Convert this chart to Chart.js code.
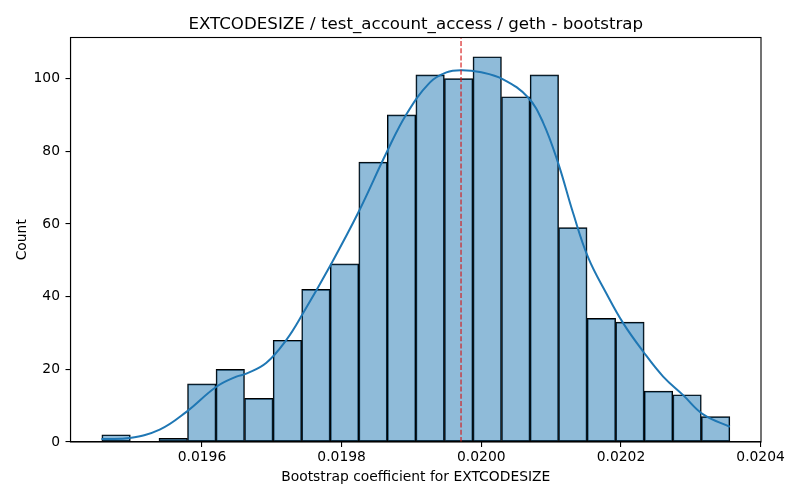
<!DOCTYPE html>
<html>
<head>
<meta charset="utf-8">
<script src="https://cdn.jsdelivr.net/npm/chart.js@4.4.1/dist/chart.umd.min.js"></script>
<style>
  html, body { margin: 0; padding: 0; background: #ffffff; }
  #c { display: block; }
</style>
</head>
<body>
<canvas id="c" width="800" height="500"></canvas>
<script>
// ---- Data ----
const chartTitle = "EXTCODESIZE / test_account_access / geth - bootstrap";
const xAxisLabel = "Bootstrap coefficient for EXTCODESIZE";
const yAxisLabel = "Count";

const binCenters = [
  0.0194770, 0.0195179, 0.0195588, 0.0195997, 0.0196405, 0.0196814,
  0.0197223, 0.0197632, 0.0198041, 0.0198450, 0.0198858, 0.0199267,
  0.0199676, 0.0200085, 0.0200494, 0.0200903, 0.0201311, 0.0201720,
  0.0202129, 0.0202538, 0.0202947, 0.0203356
];
const binCounts = [
  2, 0, 1, 16, 20, 12, 28, 42, 49, 77, 90, 101,
  100, 106, 95, 101, 59, 34, 33, 14, 13, 7
];

const kdeX = [
  0.0194559, 0.0194964, 0.0195394, 0.0195777, 0.0196206, 0.0196493,
  0.0196636, 0.0196923, 0.0197209, 0.0197447, 0.0197830, 0.0198235,
  0.0198642, 0.0198928, 0.0199262, 0.0199501, 0.0199716, 0.0199978,
  0.0200312, 0.0200670, 0.0200885, 0.0201100, 0.0201315, 0.0201530,
  0.0201794, 0.0202032, 0.0202318, 0.0202605, 0.0202891, 0.0203178,
  0.0203560
];
const kdeY = [
  0.8, 1.1, 3.4, 8.3, 15.2, 18.0,
  18.8, 21.8, 28.1, 35.4, 48.3, 63.0,
  79.6, 90.2, 98.9, 101.7, 102.3, 101.8,
  99.8, 94.8, 87.9, 76.8, 63.0, 50.8,
  40.8, 32.7, 24.9, 18.0, 12.9, 7.6,
  4.2
];

const refLineX = 0.019971;

const xTickValues = [0.0196, 0.0198, 0.0200, 0.0202, 0.0204];
const yTickValues = [0, 20, 40, 60, 80, 100];

const xMin = 0.0194117, xMax = 0.0204006;
const yMin = 0, yMax = 111.3;

// ---- Chart ----
const FONT = "'DejaVu Sans', 'Liberation Sans', sans-serif";

const framePlugin = {
  id: 'frame',
  afterDatasetsDraw(chart) {
    const {ctx, chartArea: a} = chart;
    ctx.save();
    ctx.strokeStyle = '#000';
    ctx.lineWidth = 1.1;
    ctx.strokeRect(a.left, a.top, a.right - a.left, a.bottom - a.top);
    ctx.restore();
  }
};

new Chart(document.getElementById('c'), {
  type: 'bar',
  data: {
    datasets: [
      {
        type: 'line',
        label: 'ref',
        data: [{x: refLineX, y: yMin}, {x: refLineX, y: yMax}],
        borderColor: 'rgba(215,25,25,0.95)',
        borderWidth: 1.2,
        borderDash: [5, 2.2],
        pointRadius: 0,
        fill: false,
        order: 1
      },
      {
        type: 'line',
        label: 'kde',
        data: kdeX.map((x, i) => ({x: x, y: kdeY[i]})),
        borderColor: '#1f77b4',
        borderWidth: 2,
        pointRadius: 0,
        fill: false,
        tension: 0.4,
        order: 2
      },
      {
        type: 'bar',
        label: 'count',
        data: binCenters.map((x, i) => ({x: x, y: binCounts[i]})),
        backgroundColor: 'rgba(31,119,180,0.5)',
        borderColor: '#000',
        borderWidth: 1,
        borderSkipped: false,
        barPercentage: 1.0,
        categoryPercentage: 1.0,
        order: 3
      }
    ]
  },
  options: {
    responsive: false,
    animation: false,
    devicePixelRatio: 1,
    layout: { padding: { left: 0, right: 39, top: 0, bottom: 0 } },
    plugins: {
      legend: { display: false },
      tooltip: { enabled: false },
      title: {
        display: true,
        text: chartTitle,
        fullSize: false,
        color: '#000',
        font: { family: FONT, size: 16.67, weight: 'normal', lineHeight: 1.2 },
        padding: { top: 14.2, bottom: 3.3 }
      }
    },
    scales: {
      x: {
        type: 'linear',
        min: xMin,
        max: xMax,
        offset: false,
        afterBuildTicks: (s) => { s.ticks = xTickValues.map(v => ({value: v})); },
        afterFit: (s) => { s.height = 58; },
        ticks: {
          autoSkip: false,
          maxRotation: 0,
          color: '#000',
          padding: 2,
          font: { family: FONT, size: 13.89 },
          callback: (v) => Number(v).toFixed(4)
        },
        grid: {
          display: true,
          offset: false,
          drawOnChartArea: false,
          drawTicks: true,
          tickLength: 5,
          color: '#000',
          lineWidth: 1.1
        },
        border: { display: true, color: '#000', width: 1.1 },
        title: {
          display: true,
          text: xAxisLabel,
          color: '#000',
          font: { family: FONT, size: 13.89, lineHeight: 1.2 },
          padding: { top: 0, bottom: 14.5 }
        }
      },
      y: {
        type: 'linear',
        min: yMin,
        max: yMax,
        afterBuildTicks: (s) => { s.ticks = yTickValues.map(v => ({value: v})); },
        afterFit: (s) => { s.width = 70.5; },
        ticks: {
          autoSkip: false,
          color: '#000',
          padding: 5.5,
          font: { family: FONT, size: 13.89 },
          callback: (v) => String(v)
        },
        grid: {
          display: true,
          offset: false,
          drawOnChartArea: false,
          drawTicks: true,
          tickLength: 5,
          color: '#000',
          lineWidth: 1.1
        },
        border: { display: true, color: '#000', width: 1.1 },
        title: {
          display: true,
          text: yAxisLabel,
          color: '#000',
          font: { family: FONT, size: 13.89, lineHeight: 1.2 },
          padding: { top: 13.7, bottom: 0 }
        }
      }
    }
  },
  plugins: [framePlugin]
});
</script>
</body>
</html>
